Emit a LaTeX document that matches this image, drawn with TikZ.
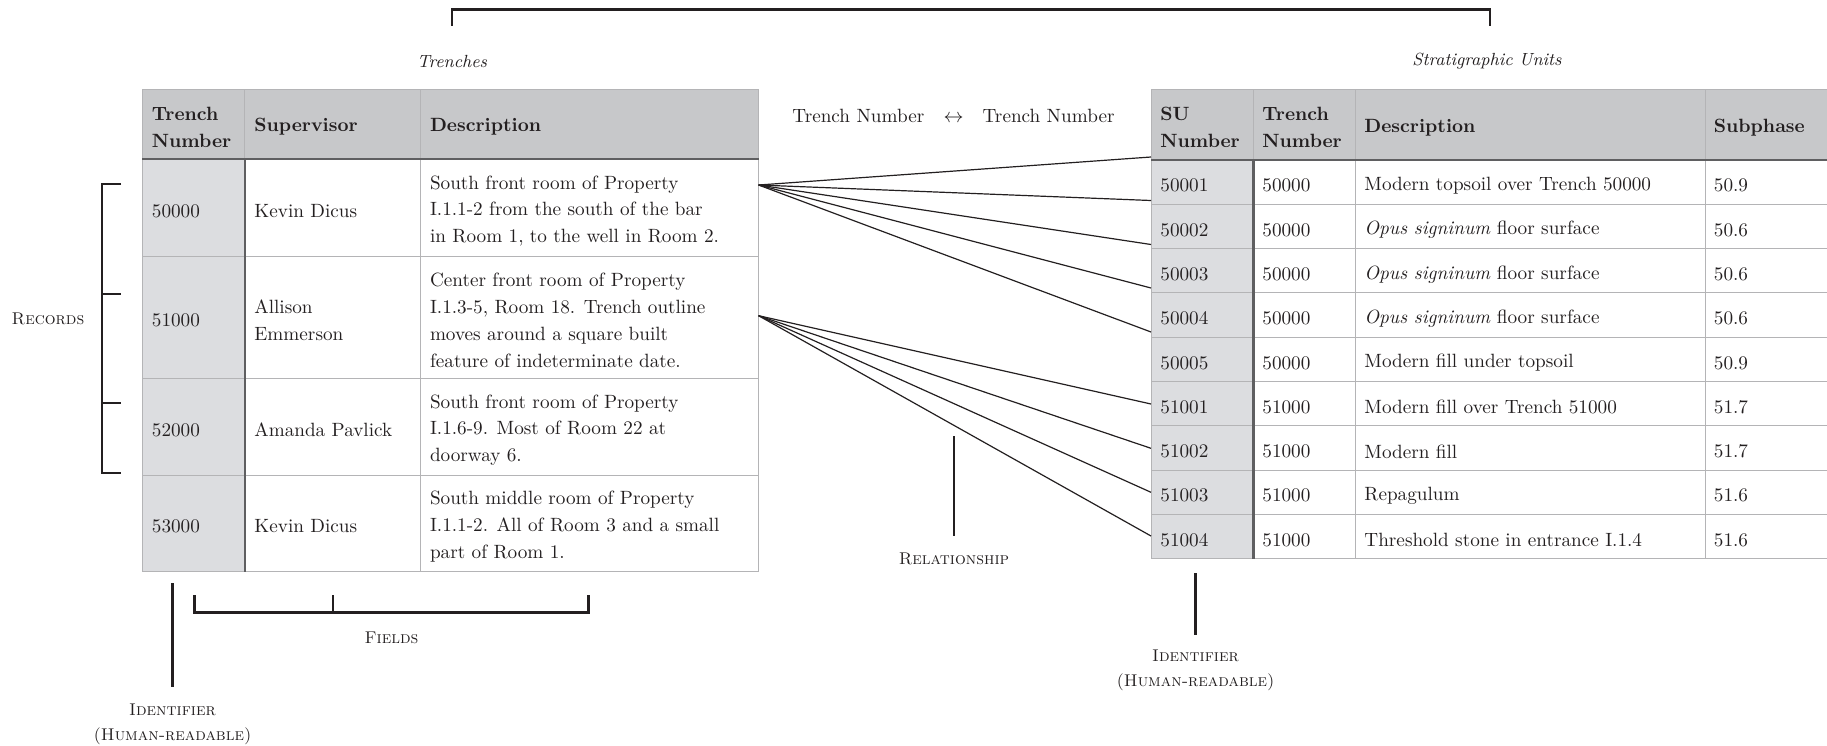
\documentclass[tikz,border=0pt]{standalone}
\usepackage{xcolor}
\usepackage{tikz}

\definecolor{headgray}{HTML}{C7C8CA}
\definecolor{idgray}{HTML}{DCDDE0}
\definecolor{gridgray}{HTML}{B4B4B6}
\definecolor{rulegray}{HTML}{5F5F61}
\definecolor{ink}{HTML}{231F20}

\tikzset{
  celltext/.style={anchor=west, inner sep=0pt, align=left, text=ink, font=\fontsize{9.6}{13.4}\selectfont},
  headtext/.style={celltext, font=\fontsize{9.6}{13.4}\selectfont\bfseries},
  tabletitle/.style={inner sep=0pt, text=ink, font=\fontsize{8.8}{12}\selectfont\itshape},
  notelabel/.style={inner sep=0pt, align=center, text=ink, font=\fontsize{8.5}{12.5}\selectfont\scshape},
  markbracket/.style={draw=ink, line width=1.4pt},
  gridline/.style={draw=gridgray, line width=0.5pt},
  headrule/.style={draw=rulegray, line width=1.2pt},
  connector/.style={draw=ink, line width=0.6pt},
}

\begin{document}
\begin{tikzpicture}[x=0.5pt, y=-0.5pt]
        \useasboundingbox (0,0) rectangle (1827,745);

        % Drawing the trenches table
        \fill[headgray] (142,89) rectangle (758.6,159);
        \fill[idgray] (142,159) rectangle (244.7,571);
        \draw[gridline] (142,89) rectangle (758.6,571);
        \draw[gridline] (142,256) -- (758.6,256);
        \draw[gridline] (142,378) -- (758.6,378);
        \draw[gridline] (142,475) -- (758.6,475);
        \draw[gridline] (244.7,89) -- (244.7,159);
        \draw[gridline] (420.6,89) -- (420.6,571);
        \draw[headrule] (142,159) -- (758.6,159);
        \draw[headrule] (244.7,159) -- (244.7,571.5);

        \node[headtext] (thnum) at (151.5,127) {Trench\\Number};
        \node[headtext] (thsup) at (254,127) {Supervisor};
        \node[headtext] (thdesc) at (429.6,127) {Description};

        \node[celltext] (tr50000) at (151.5,211) {50000};
        \node[celltext] (sup50000) at (254,211) {Kevin Dicus};
        \node[celltext] (desc50000) at (429.6,211) {South front room of Property\\I.1.1-2 from the south of the bar\\in Room 1, to the well in Room 2.};

        \node[celltext] (tr51000) at (151.5,320.5) {51000};
        \node[celltext] (sup51000) at (254,320.5) {Allison\\Emmerson};
        \node[celltext] (desc51000) at (429.6,320.5) {Center front room of Property\\I.1.3-5, Room 18. Trench outline\\moves around a square built\\feature of indeterminate date.};

        \node[celltext] (tr52000) at (151.5,430) {52000};
        \node[celltext] (sup52000) at (254,430) {Amanda Pavlick};
        \node[celltext] (desc52000) at (429.6,430) {South front room of Property\\I.1.6-9. Most of Room 22 at\\doorway 6.};

        \node[celltext] (tr53000) at (151.5,526.5) {53000};
        \node[celltext] (sup53000) at (254,526.5) {Kevin Dicus};
        \node[celltext] (desc53000) at (429.6,526.5) {South middle room of Property\\I.1.1-2. All of Room 3 and a small\\part of Room 1.};

        % Drawing the stratigraphic units table
        \fill[headgray] (1151,89) rectangle (1827,160);
        \fill[idgray] (1151,160) rectangle (1253.5,558.7);
        \draw[gridline] (1827,89) -- (1151,89) -- (1151,558.7) -- (1827,558.7);
        \draw[gridline] (1151,204.3) -- (1827,204.3);
        \draw[gridline] (1151,248.6) -- (1827,248.6);
        \draw[gridline] (1151,292.9) -- (1827,292.9);
        \draw[gridline] (1151,337.2) -- (1827,337.2);
        \draw[gridline] (1151,381.5) -- (1827,381.5);
        \draw[gridline] (1151,425.8) -- (1827,425.8);
        \draw[gridline] (1151,470.1) -- (1827,470.1);
        \draw[gridline] (1151,514.4) -- (1827,514.4);
        \draw[gridline] (1253.5,89) -- (1253.5,160);
        \draw[gridline] (1355,89) -- (1355,558.7);
        \draw[gridline] (1705,89) -- (1705,558.7);
        \draw[headrule] (1151,160) -- (1827,160);
        \draw[headrule] (1253.5,160) -- (1253.5,558.7);

        \node[headtext] (suhnum) at (1160,127.5) {SU\\Number};
        \node[headtext] (suhtr) at (1262,127.5) {Trench\\Number};
        \node[headtext] (suhdesc) at (1364,127.5) {Description};
        \node[headtext] (suhphase) at (1713.5,127.5) {Subphase};

        \node[celltext] (su50001) at (1160,185.5) {50001};
        \node[celltext] at (1262,185.5) {50000};
        \node[celltext] at (1364,185.5) {Modern topsoil over Trench 50000};
        \node[celltext] at (1713.5,185.5) {50.9};

        \node[celltext] (su50002) at (1160,229.9) {50002};
        \node[celltext] at (1262,229.9) {50000};
        \node[celltext] at (1364,229.9) {\textit{Opus signinum} floor surface};
        \node[celltext] at (1713.5,229.9) {50.6};

        \node[celltext] (su50003) at (1160,274.2) {50003};
        \node[celltext] at (1262,274.2) {50000};
        \node[celltext] at (1364,274.2) {\textit{Opus signinum} floor surface};
        \node[celltext] at (1713.5,274.2) {50.6};

        \node[celltext] (su50004) at (1160,318.5) {50004};
        \node[celltext] at (1262,318.5) {50000};
        \node[celltext] at (1364,318.5) {\textit{Opus signinum} floor surface};
        \node[celltext] at (1713.5,318.5) {50.6};

        \node[celltext] (su50005) at (1160,362.9) {50005};
        \node[celltext] at (1262,362.9) {50000};
        \node[celltext] at (1364,362.9) {Modern fill under topsoil};
        \node[celltext] at (1713.5,362.9) {50.9};

        \node[celltext] (su51001) at (1160,407.1) {51001};
        \node[celltext] at (1262,407.1) {51000};
        \node[celltext] at (1364,407.1) {Modern fill over Trench 51000};
        \node[celltext] at (1713.5,407.1) {51.7};

        \node[celltext] (su51002) at (1160,451.5) {51002};
        \node[celltext] at (1262,451.5) {51000};
        \node[celltext] at (1364,451.5) {Modern fill};
        \node[celltext] at (1713.5,451.5) {51.7};

        \node[celltext] (su51003) at (1160,495.7) {51003};
        \node[celltext] at (1262,495.7) {51000};
        \node[celltext] at (1364,495.7) {Repagulum};
        \node[celltext] at (1713.5,495.7) {51.6};

        \node[celltext] (su51004) at (1160,540) {51004};
        \node[celltext] at (1262,540) {51000};
        \node[celltext] at (1364,540) {Threshold stone in entrance I.1.4};
        \node[celltext] at (1713.5,540) {51.6};

        % Titles and the key
        \node[tabletitle] (trenches) at (452,61.5) {Trenches};
        \node[tabletitle] (units) at (1487,61.5) {Stratigraphic Units};
        \node[celltext, anchor=center] (keypair) at (953.5,115.5) {Trench Number\quad$\leftrightarrow$\quad Trench Number};

        \coordinate (topl) at (452,25.6);
        \coordinate (topr) at (1490,25.6);
        \draw[markbracket] (topl) -- (452,9.3) -- (1490,9.3) -- (topr);

        % Drawing the links
        \coordinate (from50000) at (758.6,185);
        \coordinate (from51000) at (758.6,315.7);
        \coordinate (to50001) at (1151,157);
        \coordinate (to50002) at (1151,200.5);
        \coordinate (to50003) at (1151,244.5);
        \coordinate (to50004) at (1151,288);
        \coordinate (to50005) at (1151,332);
        \coordinate (to51001) at (1151,404);
        \coordinate (to51002) at (1151,448.3);
        \coordinate (to51003) at (1151,492.3);
        \coordinate (to51004) at (1151,536);
        \draw[connector] (from50000) -- (to50001);
        \draw[connector] (from50000) -- (to50002);
        \draw[connector] (from50000) -- (to50003);
        \draw[connector] (from50000) -- (to50004);
        \draw[connector] (from50000) -- (to50005);
        \draw[connector] (from51000) -- (to51001);
        \draw[connector] (from51000) -- (to51002);
        \draw[connector] (from51000) -- (to51003);
        \draw[connector] (from51000) -- (to51004);

        % Annotations
        \draw[markbracket] (121,184) -- (102,184) -- (102,473) -- (121,473);
        \draw[markbracket] (102,294) -- (121,294);
        \draw[markbracket] (102,403) -- (121,403);
        \node[notelabel] (records) at (48,319) {Records};

        \draw[markbracket] (194.5,595) -- (194.5,612.5) -- (588.5,612.5) -- (588.5,595);
        \draw[markbracket] (333,612.5) -- (333,595);
        \node[notelabel] (fields) at (391.5,638) {Fields};

        \draw[markbracket] (172.5,583) -- (172.5,687);
        \node[notelabel] (idleft) at (172.5,724) {Identifier\\(Human-readable)};

        \draw[markbracket] (954,436) -- (954,536);
        \node[notelabel] (relation) at (954,559) {Relationship};

        \draw[markbracket] (1195.5,573) -- (1195.5,635);
        \node[notelabel] (idright) at (1195.5,670) {Identifier\\(Human-readable)};
    \end{tikzpicture}
\end{document}
